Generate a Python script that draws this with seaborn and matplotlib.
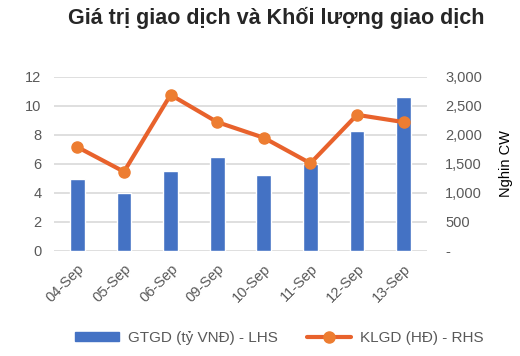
import matplotlib
matplotlib.use("Agg")
import matplotlib.pyplot as plt
import seaborn as sns
from matplotlib.ticker import FuncFormatter
from matplotlib.patches import Patch
from matplotlib.lines import Line2D

# data
dates = ['04-Sep', '05-Sep', '06-Sep', '09-Sep', '10-Sep', '11-Sep', '12-Sep', '13-Sep']
gtgd = [4.95, 3.95, 5.5, 6.45, 5.2, 6.0, 8.25, 10.6]          # ty VND, left axis
klgd = [1785, 1360, 2685, 2215, 1945, 1505, 2340, 2215]       # nghin CW, right axis

sns.set_style('white')
plt.rcParams['font.family'] = ['Liberation Sans', 'DejaVu Sans']

bar_color = '#4472C4'
line_color = '#E8622C'
marker_color = '#ED7D31'
tick_color = '#595959'
grid_color = '#D9D9D9'

fig = plt.figure(figsize=(5.2, 3.56), dpi=100)
ax = fig.add_axes([0.104, 0.296, 0.717, 0.489])

sns.barplot(x=dates, y=gtgd, color=bar_color, width=0.32, saturation=1, ax=ax)
ax.set_ylim(0, 12)
ax.set_yticks(range(0, 13, 2))
ax.yaxis.grid(True, color=grid_color, linewidth=1.2)
ax.set_axisbelow(True)

ax2 = ax.twinx()
sns.pointplot(x=dates, y=klgd, color=line_color, markers='o', ax=ax2,
              linewidth=3, markersize=0)
ax2.plot(range(len(dates)), klgd, linestyle='none', marker='o',
         markersize=8, color=marker_color, zorder=5)
ax2.set_ylim(0, 3000)
ax2.set_yticks(range(0, 3001, 500))
ax2.yaxis.set_major_formatter(FuncFormatter(lambda v, p: '-' if v == 0 else f'{int(v):,}'))
ax2.set_ylabel('Nghin CW', fontsize=10.5, color='black', labelpad=12)
ax.set_xlim(-0.5, len(dates) - 0.5)
ax2.set_xlim(-0.5, len(dates) - 0.5)

for a in (ax, ax2):
    for s in a.spines.values():
        s.set_visible(False)
    a.tick_params(length=0, labelsize=10.5, labelcolor=tick_color)
ax.tick_params(axis='y', pad=9)
ax2.tick_params(axis='y', pad=13)
ax.set_xlabel('')
ax.set_ylabel('')

for lab in ax.get_xticklabels():
    lab.set_rotation(45)
    lab.set_ha('right')
    lab.set_rotation_mode('anchor')
ax.tick_params(axis='x', pad=8)

fig.text(0.531, 0.95, 'Giá trị giao dịch và Khối lượng giao dịch', ha='center',
         va='center', fontsize=15.5, fontweight='bold')

handles = [Patch(color=bar_color),
           Line2D([0], [0], color=line_color, linewidth=3, marker='o',
                  markersize=8, markerfacecolor=marker_color, markeredgecolor=marker_color)]
fig.legend(handles, ['GTGD (tỷ VNĐ) - LHS', 'KLGD (HĐ) - RHS'], loc='center',
           bbox_to_anchor=(0.537, 0.05), ncol=2, frameon=False, fontsize=11,
           handlelength=2.9, handleheight=0.55, handletextpad=0.6,
           columnspacing=1.9, labelcolor=tick_color)

fig.savefig('out.png', dpi=100)
